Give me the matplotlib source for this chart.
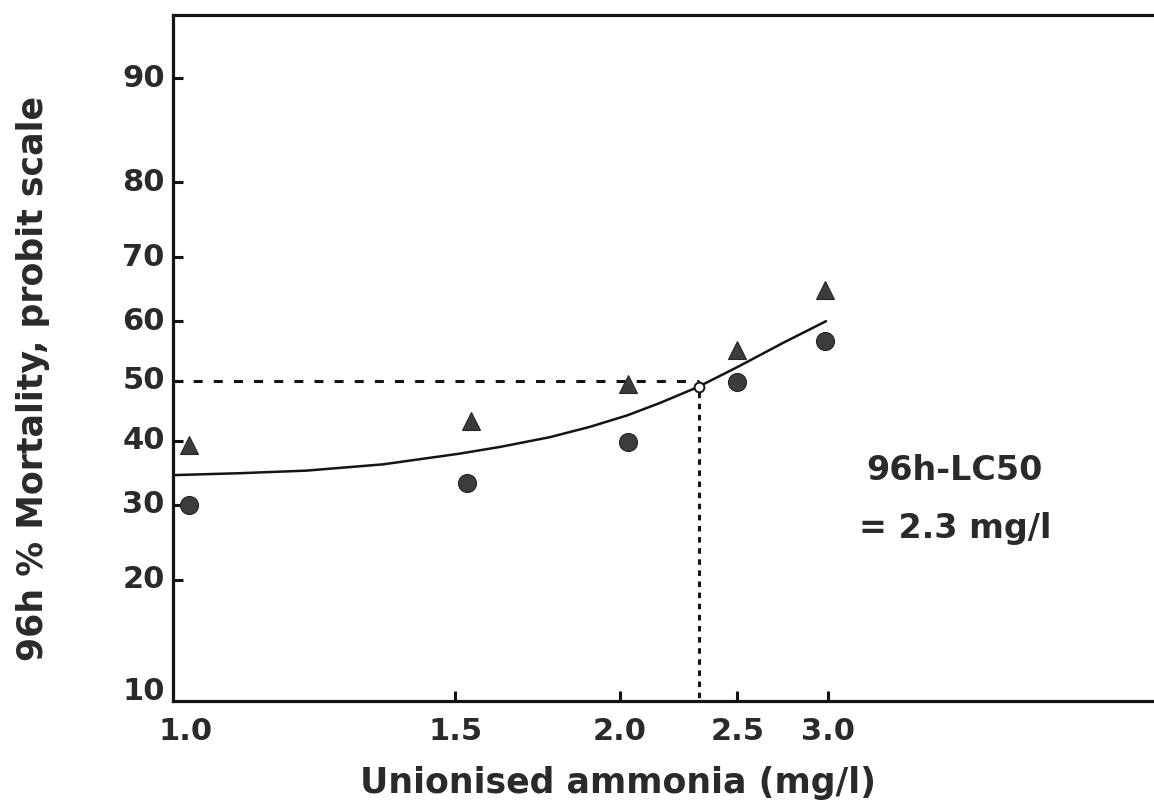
import numpy as np
import matplotlib
matplotlib.use("Agg")
import matplotlib.pyplot as plt
import matplotlib.transforms as mtransforms
from statistics import NormalDist

# -------------------------------
# Dati
# -------------------------------
conc_tri = [1.02, 1.54, 2.03, 2.50, 2.98]
mort_tri = [39.3, 43.3, 49.5, 55.2, 65.0]

conc_circ = [1.02, 1.53, 2.03, 2.50, 2.98]
mort_circ = [30.0, 33.3, 39.8, 49.8, 56.7]

# curva disegnata a mano (punti letti lungo la linea)
fit_conc = [1.0, 1.089, 1.193, 1.338, 1.510, 1.617, 1.763, 1.893,
            2.026, 2.155, 2.317, 2.504, 2.738, 2.988]
fit_mort = [34.5, 34.8, 35.2, 36.2, 37.9, 39.0, 40.6, 42.3,
            44.2, 46.3, 49.0, 52.4, 56.4, 60.0]

lc50_conc = 2.32
lc50_mort = 50
lc50_point = 49.0

xticks = [1.0, 1.5, 2.0, 2.5, 3.0]
xtick_labels = ["1.0", "1.5", "2.0", "2.5", "3.0"]
yticks = [10, 20, 30, 40, 50, 60, 70, 80, 90]
ytick_labels = [str(v) for v in yticks]

# -------------------------------
# Scale: probit (y) e log spostata (x)
# -------------------------------
_nd = NormalDist()


def probit_fwd(p):
    p = np.clip(np.asarray(p, dtype=float), 1e-6, 100 - 1e-6)
    return np.vectorize(lambda v: _nd.inv_cdf(v / 100.0), otypes=[float])(p)


def probit_inv(z):
    z = np.asarray(z, dtype=float)
    return np.vectorize(lambda v: _nd.cdf(v) * 100.0, otypes=[float])(z)


def conc_fwd(x):
    x = np.asarray(x, dtype=float)
    return np.log10(np.clip(x - 0.5, 1e-6, None))


def conc_inv(y):
    return 10 ** np.asarray(y, dtype=float) + 0.5


plt.rcParams["font.family"] = "DejaVu Sans"
plt.rcParams["font.weight"] = "bold"
plt.rcParams["lines.scale_dashes"] = False

txt_col = "#2a2a2a"
line_col = "#141414"
mark_col = "#3c3c3c"

fig = plt.figure(figsize=(11.54, 8.03), dpi=100)
ax = fig.add_axes([0.1499, 0.1258, 0.8501, 0.8543])

ax.set_xscale("function", functions=(conc_fwd, conc_inv))
ax.set_yscale("function", functions=(probit_fwd, probit_inv))
ax.set_xlim(1.0, 6.07)
ax.set_ylim(8.76, 93.95)

# linee di riferimento LC50
ax.plot([1.0, lc50_conc], [lc50_mort, lc50_mort], color=line_col, lw=2.2,
        dashes=(6.5, 8), zorder=2)
ax.plot([lc50_conc, lc50_conc], [lc50_mort, 8.76], color=line_col, lw=2.2,
        dashes=(4.0, 4.0), zorder=2)

# curva
ax.plot(fit_conc, fit_mort, color=line_col, lw=1.8, zorder=3,
        solid_joinstyle="round", solid_capstyle="round")

# punti
ax.plot(conc_tri, mort_tri, ls="none", marker="^", ms=13, color=mark_col,
        mec="#262626", mew=0.8, zorder=4, clip_on=False)
ax.plot(conc_circ, mort_circ, ls="none", marker="o", ms=13, color=mark_col,
        mec="#262626", mew=0.8, zorder=4, clip_on=False)
ax.plot([lc50_conc], [lc50_point], ls="none", marker="o", ms=7, mfc="white",
        mec=line_col, mew=1.4, zorder=5)

# testo LC50
ax.text(0.797, 0.3236, "96h-LC50", transform=ax.transAxes, ha="center",
        va="baseline", fontsize=24, fontweight="bold", color=txt_col)
ax.text(0.797, 0.239, "= 2.3 mg/l", transform=ax.transAxes, ha="center",
        va="baseline", fontsize=24, fontweight="bold", color=txt_col)

# assi
for side in ["left", "bottom", "top"]:
    ax.spines[side].set_linewidth(2.3)
    ax.spines[side].set_color(line_col)
ax.spines["right"].set_visible(False)

ax.set_xticks(xticks)
ax.set_xticklabels(xtick_labels)
ax.set_yticks(yticks)
ax.set_yticklabels(ytick_labels)
ax.minorticks_off()
ax.tick_params(axis="both", direction="in", length=7, width=2.2,
               color=line_col, labelsize=22, labelcolor=txt_col)
ax.tick_params(axis="x", pad=11)
ax.tick_params(axis="y", pad=6)

# niente tacca all'angolo (1.0 e 10)
ax.xaxis.get_major_ticks()[0].tick1line.set_visible(False)
ax.yaxis.get_major_ticks()[0].tick1line.set_visible(False)

for i, lab in enumerate(ax.get_xticklabels()):
    lab.set_fontweight("bold")
    if i == 0:
        off = mtransforms.ScaledTranslation(9 / 72, 0, fig.dpi_scale_trans)
        lab.set_transform(lab.get_transform() + off)
for i, lab in enumerate(ax.get_yticklabels()):
    lab.set_fontweight("bold")
    dy = -3 / 72 if i == 0 else 3 / 72
    off = mtransforms.ScaledTranslation(0, dy, fig.dpi_scale_trans)
    lab.set_transform(lab.get_transform() + off)

ax.set_xlabel("Unionised ammonia (mg/l)", fontsize=25, fontweight="bold",
              color=txt_col, va="baseline")
ax.xaxis.set_label_coords(0.4536, -0.1327)
ax.set_ylabel("96h % Mortality, probit scale", fontsize=25, fontweight="bold",
              color=txt_col, va="baseline", ha="center")
ax.yaxis.set_label_coords(-0.1325, 0.472)

fig.savefig("out.png", dpi=100, facecolor="white")
